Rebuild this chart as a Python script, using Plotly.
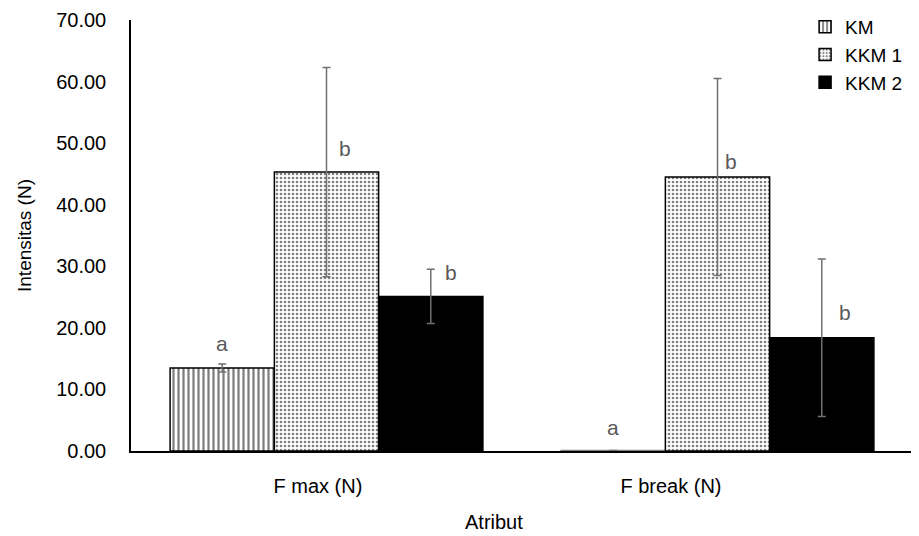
import plotly.graph_objects as go

categories = ["F max (N)", "F break (N)"]
series = ["KM", "KKM 1", "KKM 2"]
km = [13.5, 0.1]
kkm1 = [45.3, 44.5]
kkm2 = [25.1, 18.4]
km_err = [0.65, 0.0]
kkm1_err = [17.0, 16.0]
kkm2_err = [4.4, 12.8]
km_lbl = ["a", "a"]
kkm1_lbl = ["b", "b"]
kkm2_lbl = ["b", "b"]
km_lbl_y = [17.4, 3.8]
kkm1_lbl_y = [49.2, 47.0]
kkm2_lbl_y = [29.0, 22.5]
y_ticks = [0, 10, 20, 30, 40, 50, 60, 70]

FONT = "Liberation Sans, Arial"
xs = list(range(len(categories)))
bw = 0.8 / 3
offsets = [-bw, 0, bw]

fig = go.Figure()
styles = [
    dict(pattern=dict(shape="|", fgcolor="black", bgcolor="white", size=5, solidity=0.45, fillmode="overlay"), color="white"),
    dict(pattern=dict(shape=".", fgcolor="black", bgcolor="white", size=4, solidity=0.35, fillmode="overlay"), color="white"),
    dict(color="black"),
]
vals = [km, kkm1, kkm2]
errs = [km_err, kkm1_err, kkm2_err]
linecols = [["black", "#808080"], ["black", "black"], ["black", "black"]]
for i, name in enumerate(series):
    fig.add_trace(go.Bar(
        x=[x + offsets[i] for x in xs], y=vals[i], name=name, width=bw,
        marker=dict(line=dict(color=linecols[i], width=1.5), **styles[i]),
        error_y=dict(type="data", array=errs[i], color="#707070", thickness=1.5, width=4),
    ))

lbls = [km_lbl, kkm1_lbl, kkm2_lbl]
lbl_y = [km_lbl_y, kkm1_lbl_y, kkm2_lbl_y]
shifts = [[0, 0], [18, 13], [20, 23]]
for i in range(3):
    for j, x in enumerate(xs):
        fig.add_annotation(x=x + offsets[i], y=lbl_y[i][j], text=lbls[i][j], showarrow=False,
                           xshift=shifts[i][j], font=dict(family=FONT, size=21, color="#595959"))

fig.add_annotation(x=0.464, y=(451 - 522) / (451 - 20), xref="paper", yref="paper", text="Atribut",
                   showarrow=False, yanchor="middle", font=dict(family=FONT, size=20, color="black"))

fig.update_layout(
    width=919, height=536, margin=dict(l=123, r=14, t=12, b=93, autoexpand=False),
    plot_bgcolor="white", paper_bgcolor="white", barmode="overlay",
    font=dict(family=FONT, size=20, color="black"),
    legend=dict(x=0.862, y=1.0278, xanchor="left", yanchor="top", font=dict(size=19),
                bgcolor="rgba(0,0,0,0)", itemwidth=30, tracegroupgap=2),
    xaxis=dict(range=[-0.5, 1.5], tickvals=[-0.022, 0.881], ticktext=categories,
               showline=True, linecolor="black", linewidth=2, ticks="", showgrid=False,
               zeroline=False, ticklabelstandoff=16, automargin=False),
    yaxis=dict(range=[0, 70], tickvals=y_ticks, tickformat=".2f", showline=True,
               linecolor="black", linewidth=1.5, ticks="", showgrid=False, zeroline=False,
               ticklabelstandoff=19, automargin=False,
               title=dict(text="Intensitas (N)", font=dict(size=19), standoff=20)),
)
fig.write_html("out.html")
